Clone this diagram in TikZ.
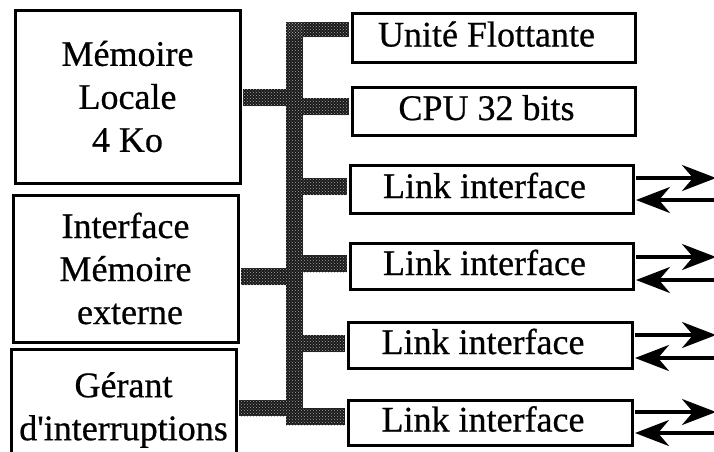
\documentclass[tikz,border=0pt]{standalone}
\usepackage{fontspec}
\setmainfont{Liberation Serif}[Ligatures=TeXOff, FakeBold=0.6]
\usetikzlibrary{arrows.meta,patterns}

\tikzset{
  boxline/.style={draw=black, line width=3pt, fill=white, inner sep=0pt,
                  font=\fontsize{36}{43}\selectfont},
  unitbox/.style={boxline, align=center},
  onerow/.style={boxline, text height=24pt, text depth=6pt},
  busfill/.style={fill=black!90},
  busdots/.style={pattern=crosshatch dots, pattern color=white!65!black},
  link/.style={line width=3.5pt, -{Stealth[length=34pt, width=26pt, inset=11pt]}},
}
\newcommand{\leftpad}{\hspace*{14pt}}

\begin{document}
\begin{tikzpicture}[x=1pt, y=-1pt]
  \useasboundingbox (0,0) rectangle (714,451);

  % left column
  \node[unitbox, minimum width=225pt, minimum height=173pt] (mem) at (127.5,96.5)
       {Mémoire\\Locale\\4 Ko};
  \node[unitbox, minimum width=225pt, minimum height=147pt] (ime) at (125.5,268.5)
       {Interface\\Mémoire\\\ externe};
  \node[unitbox, minimum width=225pt, minimum height=122pt] (irq) at (123.5,410)
       {Gérant\\d'interruptions};

  % right column
  \node[onerow, minimum width=283pt, minimum height=49pt] (fpu) at (493.5,37.5)
       {Unité Flottante\leftpad};
  \node[onerow, minimum width=283pt, minimum height=48pt] (cpu) at (493.5,111)
       {CPU 32 bits\leftpad};
  \node[onerow, minimum width=283pt, minimum height=48pt] (l1) at (491.5,189)
       {Link interface\leftpad};
  \node[onerow, minimum width=283pt, minimum height=46pt] (l2) at (491.5,266)
       {Link interface\leftpad};
  \node[onerow, minimum width=284pt, minimum height=46pt] (l3) at (490,345)
       {Link interface\leftpad};
  \node[onerow, minimum width=284pt, minimum height=45pt] (l4) at (490,422.5)
       {Link interface\leftpad};

  % internal bus
  \foreach \s in {busfill, busdots} {
    \path[\s] (286,22) rectangle (303,425);
    \path[\s] (286,22) rectangle ([xshift=-2pt]fpu.west |- 0,37);
    \path[\s] (303,98) rectangle ([xshift=-2pt]cpu.west |- 0,115);
    \path[\s] (303,178) rectangle ([xshift=-2pt]l1.west |- 0,195);
    \path[\s] (303,255) rectangle ([xshift=-2pt]l2.west |- 0,272);
    \path[\s] (303,335) rectangle ([xshift=-2pt]l3.west |- 0,352);
    \path[\s] (303,408) rectangle ([xshift=-2pt]l4.west |- 0,425);
    \path[\s] ([xshift=1.5pt]mem.east |- 0,89) rectangle (286,106);
    \path[\s] ([xshift=1.5pt]ime.east |- 0,268) rectangle (286,285);
    \path[\s] ([xshift=1.5pt]irq.east |- 0,400) rectangle (286,416);
  }

  % serial links
  \foreach \n/\a/\b in {l1/178/200, l2/257/280, l3/335/358, l4/412/433} {
    \coordinate (\n out) at (716,\a);
    \coordinate (\n in)  at (716,\b);
    \draw[link] ([xshift=1.5pt]\n.east |- 0,\a) -- (\n out);
    \draw[link] (\n in) -- ([xshift=1.5pt]\n.east |- 0,\b);
  }
\end{tikzpicture}
\end{document}
